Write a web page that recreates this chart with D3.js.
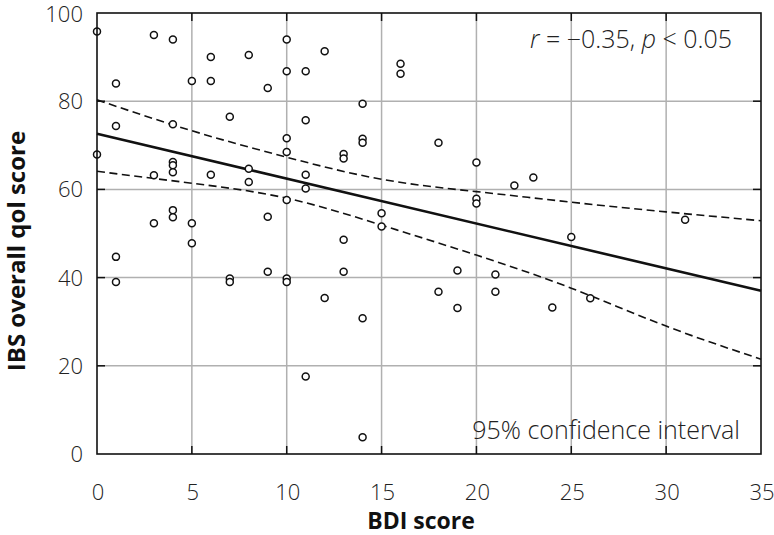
<!DOCTYPE html>
<html><head><meta charset="utf-8">
<script src="https://cdn.jsdelivr.net/npm/d3@7"></script>
<style>body{margin:0;background:#fff}svg{display:block}text{font-family:"Open Sans",sans-serif}</style>
</head><body><svg id="c" width="774" height="535"></svg>
<script>
// Data
const bdi = [0,0, 1,1,1,1, 3,3,3, 4,4,4,4,4,4,4, 5,5,5, 6,6,6, 7,7,7, 8,8,8, 9,9,9,
  10,10,10,10,10,10,10, 11,11,11,11,11, 12,12, 13,13,13,13, 14,14,14,14,14, 15,15, 16,16,
  18,18, 19,19, 20,20,20, 21,21, 22, 23, 24, 25, 26, 31];
const qol = [95.8,67.9, 84,74.4,44.7,39, 95,63.2,52.3, 94,74.8,66.2,65.5,63.9,55.3,53.7,
  84.6,52.3,47.8, 90,84.6,63.3, 76.5,39.8,39, 90.5,64.7,61.7, 83,53.8,41.3,
  94,86.8,71.6,68.5,57.6,39.8,39, 86.8,75.7,63.3,60.2,17.6, 91.3,35.4, 68,67,48.6,41.3,
  79.4,71.5,70.6,30.8,3.8, 54.6,51.6, 88.5,86.2, 70.6,36.8, 41.6,33.1, 66.1,57.9,56.8,
  40.7,36.8, 60.9, 62.7, 33.2, 49.2, 35.3, 53.1];
const fitX = [0, 35];
const fitY = [72.6, 37];
const ciX = [0, 5, 10, 15, 20, 25, 30, 35];
const ciUpper = [80.3, 73.3, 67.3, 62.3, 59.5, 57.1, 54.9, 52.9];
const ciLower = [64.1, 61.4, 58, 51.9, 45.1, 37.6, 29, 21.5];
const xTicks = [0, 5, 10, 15, 20, 25, 30, 35];
const yTicks = [0, 20, 40, 60, 80, 100];
const statText = ["r", " = \u22120.35, ", "p", " < 0.05"];
const ciLabel = "95% confidence interval";
const xTitle = "BDI score";
const yTitle = "IBS overall qol score";

const svg = d3.select("#c");
const L = 97, R = 761, T = 13, B = 454;
const x = d3.scaleLinear().domain([0, 35]).range([L, R]);
const y = d3.scaleLinear().domain([0, 100]).range([B, T]);

// grid
const g = svg.append("g");
g.selectAll(".gx").data(xTicks.slice(1, -1)).join("line")
  .attr("x1", d => x(d)).attr("x2", d => x(d)).attr("y1", T).attr("y2", B)
  .attr("stroke", "#b0b0b0").attr("stroke-width", 1.5);
g.selectAll(".gy").data(yTicks.slice(1, -1)).join("line")
  .attr("y1", d => y(d)).attr("y2", d => y(d)).attr("x1", L).attr("x2", R)
  .attr("stroke", "#b0b0b0").attr("stroke-width", 1.5);

// inner ticks on all four sides
const tk = 8;
svg.append("g").selectAll("line").data(xTicks.slice(1, -1)).join("line")
  .attr("x1", d => x(d)).attr("x2", d => x(d)).attr("y1", B).attr("y2", B - tk)
  .attr("stroke", "#111").attr("stroke-width", 1.5);
svg.append("g").selectAll("line").data(xTicks.slice(1, -1)).join("line")
  .attr("x1", d => x(d)).attr("x2", d => x(d)).attr("y1", T).attr("y2", T + tk)
  .attr("stroke", "#111").attr("stroke-width", 1.5);
svg.append("g").selectAll("line").data(yTicks.slice(1, -1)).join("line")
  .attr("y1", d => y(d)).attr("y2", d => y(d)).attr("x1", L).attr("x2", L + tk)
  .attr("stroke", "#111").attr("stroke-width", 1.5);
svg.append("g").selectAll("line").data(yTicks.slice(1, -1)).join("line")
  .attr("y1", d => y(d)).attr("y2", d => y(d)).attr("x1", R).attr("x2", R - tk)
  .attr("stroke", "#111").attr("stroke-width", 1.5);

// CI curves
const ciLine = d3.line().x(d => x(d[0])).y(d => y(d[1])).curve(d3.curveNatural);
[ciUpper, ciLower].forEach(arr => {
  svg.append("path").datum(ciX.map((v, i) => [v, arr[i]]))
    .attr("d", ciLine).attr("fill", "none").attr("stroke", "#111")
    .attr("stroke-width", 1.6).attr("stroke-dasharray", "8,4.5");
});

// regression line
svg.append("path").datum(fitX.map((v, i) => [v, fitY[i]]))
  .attr("d", d3.line().x(d => x(d[0])).y(d => y(d[1])))
  .attr("fill", "none").attr("stroke", "#111").attr("stroke-width", 2.6);

// points
svg.append("g").selectAll("circle").data(bdi.map((v, i) => [v, qol[i]])).join("circle")
  .attr("cx", d => x(d[0])).attr("cy", d => y(d[1])).attr("r", 3.5)
  .attr("fill", "#fff").attr("stroke", "#111").attr("stroke-width", 1.5);

// frame
svg.append("rect").attr("x", L).attr("y", T).attr("width", R - L).attr("height", B - T)
  .attr("fill", "none").attr("stroke", "#111").attr("stroke-width", 1.6);

// tick labels
svg.append("g").selectAll("text").data(xTicks).join("text")
  .attr("x", d => x(d) + 1).attr("y", 500).attr("text-anchor", "middle")
  .attr("font-size", 22).attr("font-weight", 300).attr("fill", "#222").text(d => d);
svg.append("g").selectAll("text").data(yTicks).join("text")
  .attr("x", 83).attr("y", d => Math.max(y(d) + 8, 22)).attr("text-anchor", "end")
  .attr("font-size", 22).attr("font-weight", 300).attr("fill", "#222").text(d => d);

// titles
svg.append("text").attr("x", 421).attr("y", 529).attr("text-anchor", "middle")
  .attr("font-size", 23).attr("font-weight", 700).attr("fill", "#111").text(xTitle);
svg.append("text").attr("transform", "translate(25,251) rotate(-90)")
  .attr("text-anchor", "middle").attr("font-size", 24).attr("font-weight", 700)
  .attr("fill", "#111").text(yTitle);

// annotations
const st = svg.append("text").attr("x", 732).attr("y", 48).attr("text-anchor", "end")
  .attr("font-size", 25).attr("font-weight", 300).attr("fill", "#222");
statText.forEach((s, i) => st.append("tspan").attr("font-style", i % 2 === 0 ? "italic" : "normal").text(s));
svg.append("text").attr("x", 740).attr("y", 439).attr("text-anchor", "end")
  .attr("font-size", 25).attr("font-weight", 300).attr("fill", "#222").text(ciLabel);
</script></body></html>
